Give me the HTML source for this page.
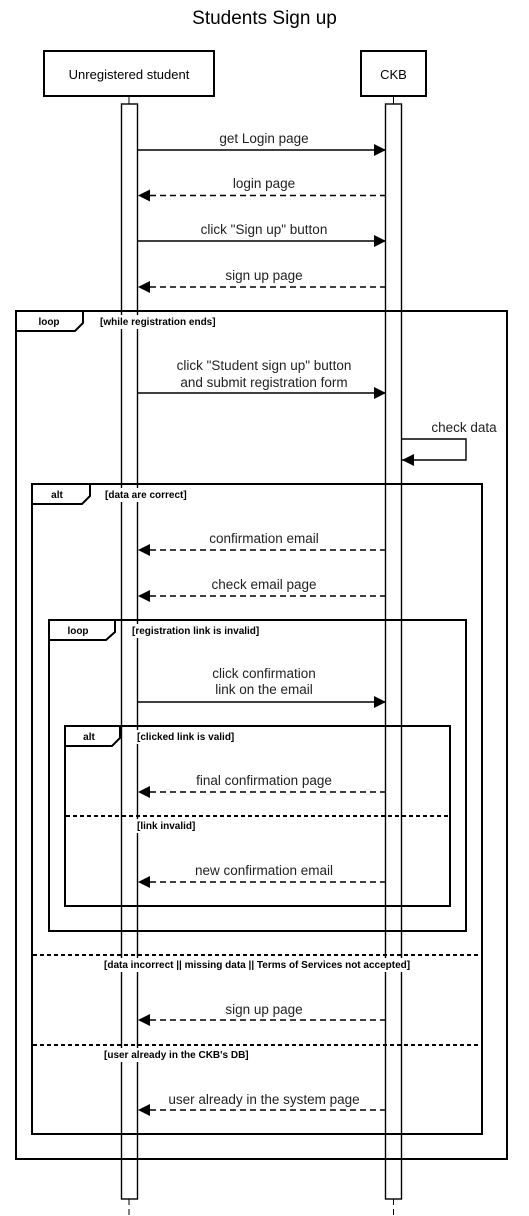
<!DOCTYPE html>
<html><head><meta charset="utf-8"><style>body{margin:0;background:#fff}svg{display:block}</style></head>
<body>
<svg width="529" height="1216" viewBox="0 0 529 1216" xmlns="http://www.w3.org/2000/svg" font-family="Liberation Sans, sans-serif">
<defs>
<marker id="a" markerWidth="12" markerHeight="12" refX="12" refY="6" orient="auto" markerUnits="userSpaceOnUse"><path d="M0,0 L12,6 L0,12 z" fill="#000"/></marker>
</defs>
<text x="264.5" y="24" text-anchor="middle" font-size="19" fill="#000">Students Sign up</text>
<rect x="44" y="51" width="170" height="45" fill="#fff" stroke="#000" stroke-width="2"/>
<text x="129" y="79" text-anchor="middle" font-size="13">Unregistered student</text>
<rect x="361" y="51" width="65" height="45" fill="#fff" stroke="#000" stroke-width="2"/>
<text x="393.5" y="79" text-anchor="middle" font-size="13">CKB</text>
<line x1="129" y1="96" x2="129" y2="104" stroke="#000"/>
<line x1="393.5" y1="96" x2="393.5" y2="104" stroke="#000"/>
<line x1="129" y1="1199" x2="129" y2="1216" stroke="#000" stroke-dasharray="6,4"/>
<line x1="393.5" y1="1199" x2="393.5" y2="1216" stroke="#000" stroke-dasharray="6,4"/>
<rect x="121.5" y="104" width="16" height="1095" fill="#fff" stroke="#000" stroke-width="1.4"/>
<rect x="385.5" y="104" width="16" height="1095" fill="#fff" stroke="#000" stroke-width="1.4"/>

<g font-size="13.5" text-anchor="middle" fill="#222">
<text x="264" y="143">get Login page</text>
<text x="264" y="188">login page</text>
<text x="264" y="234">click "Sign up" button</text>
<text x="264" y="280">sign up page</text>
<text x="264" y="370">click "Student sign up" button</text>
<text x="264" y="387">and submit registration form</text>
<text x="264" y="543">confirmation email</text>
<text x="264" y="589">check email page</text>
<text x="264" y="678">click confirmation</text>
<text x="264" y="694">link on the email</text>
<text x="264" y="785">final confirmation page</text>
<text x="264" y="875">new confirmation email</text>
<text x="264" y="1014">sign up page</text>
<text x="264" y="1104">user already in the system page</text>
<text x="464" y="432">check data</text>
</g>
<g stroke="#000" stroke-width="1.4" fill="none">
<line x1="138" y1="150" x2="386" y2="150" marker-end="url(#a)"/>
<line x1="386" y1="195.5" x2="138" y2="195.5" stroke-dasharray="6,4" marker-end="url(#a)"/>
<line x1="138" y1="241" x2="386" y2="241" marker-end="url(#a)"/>
<line x1="386" y1="287" x2="138" y2="287" stroke-dasharray="6,4" marker-end="url(#a)"/>
<line x1="138" y1="393" x2="386" y2="393" marker-end="url(#a)"/>
<polyline points="402,439 466,439 466,460 402,460" marker-end="url(#a)"/>
<line x1="386" y1="550" x2="138" y2="550" stroke-dasharray="6,4" marker-end="url(#a)"/>
<line x1="386" y1="596" x2="138" y2="596" stroke-dasharray="6,4" marker-end="url(#a)"/>
<line x1="138" y1="702" x2="386" y2="702" marker-end="url(#a)"/>
<line x1="386" y1="792" x2="138" y2="792" stroke-dasharray="6,4" marker-end="url(#a)"/>
<line x1="386" y1="882" x2="138" y2="882" stroke-dasharray="6,4" marker-end="url(#a)"/>
<line x1="386" y1="1020" x2="138" y2="1020" stroke-dasharray="6,4" marker-end="url(#a)"/>
<line x1="386" y1="1110" x2="138" y2="1110" stroke-dasharray="6,4" marker-end="url(#a)"/>
</g>

<g fill="none" stroke="#000" stroke-width="2">
<rect x="16" y="311" width="491" height="848"/>
<path d="M16,331 H75 L83,323 V311"/>
<rect x="32" y="484" width="450" height="650"/>
<path d="M32,504 H82 L90,496 V484"/>
<rect x="49" y="620" width="417" height="311"/>
<path d="M49,640 H106 L115,632 V620"/>
<rect x="65" y="726" width="385" height="180"/>
<path d="M65,746 H112 L120,738 V726"/>
</g>
<g stroke="#000" stroke-width="2" stroke-dasharray="4,3">
<line x1="66" y1="816" x2="449" y2="816"/>
<line x1="33" y1="955" x2="481" y2="955"/>
<line x1="33" y1="1045" x2="481" y2="1045"/>
</g>
<g font-size="10" font-weight="bold">
<text x="49" y="325" text-anchor="middle">loop</text>
<text x="57" y="498" text-anchor="middle">alt</text>
<text x="78" y="634" text-anchor="middle">loop</text>
<text x="89" y="740" text-anchor="middle">alt</text>
<rect x="99" y="315" width="138" height="14" fill="#fff"/>
<text x="100" y="325">[while registration ends]</text>
<rect x="104" y="488" width="98" height="14" fill="#fff"/>
<text x="105" y="498">[data are correct]</text>
<rect x="131" y="624" width="152" height="14" fill="#fff"/>
<text x="132" y="634">[registration link is invalid]</text>
<rect x="136" y="730" width="118" height="14" fill="#fff"/>
<text x="137" y="740">[clicked link is valid]</text>
<rect x="136" y="819" width="69" height="14" fill="#fff"/>
<text x="137" y="829">[link invalid]</text>
<rect x="103" y="958" width="356" height="14" fill="#fff"/>
<text x="104" y="968">[data incorrect || missing data || Terms of Services not accepted]</text>
<rect x="103" y="1048" width="170" height="14" fill="#fff"/>
<text x="104" y="1058">[user already in the CKB's DB]</text>
</g>
</svg>
</body></html>
